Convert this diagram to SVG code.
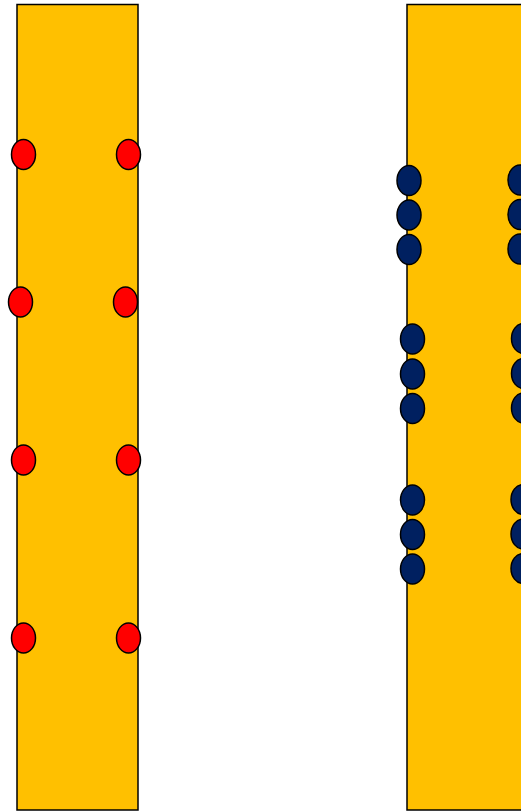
<svg xmlns="http://www.w3.org/2000/svg" width="521" height="811" viewBox="0 0 521 811">
<style>
.bar{fill:#FFC000;stroke:#000;stroke-width:1.5}
.red{fill:#FF0000;stroke:#000;stroke-width:1.5}
.navy{fill:#002060;stroke:#000;stroke-width:1.5}
</style>
<rect width="521" height="811" fill="#fff"/>
<g id="left-bar">
<rect class="bar" x="17" y="4.5" width="121" height="805.5"/>
</g>
<g id="right-bar">
<rect class="bar" x="407" y="4.5" width="130" height="805.5"/>
</g>
<g id="red-dots">
<ellipse class="red" cx="23.5" cy="154.5" rx="12" ry="15"/>
<ellipse class="red" cx="128.5" cy="154.5" rx="12" ry="15"/>
<ellipse class="red" cx="20.5" cy="302" rx="12" ry="15"/>
<ellipse class="red" cx="125.5" cy="302" rx="12" ry="15"/>
<ellipse class="red" cx="23.5" cy="460" rx="12" ry="15"/>
<ellipse class="red" cx="128.5" cy="460" rx="12" ry="15"/>
<ellipse class="red" cx="23.5" cy="638" rx="12" ry="15"/>
<ellipse class="red" cx="128.5" cy="638" rx="12" ry="15"/>
</g>
<g id="navy-dots">
<ellipse class="navy" cx="409" cy="180.5" rx="12" ry="15"/>
<ellipse class="navy" cx="409" cy="215" rx="12" ry="15"/>
<ellipse class="navy" cx="409" cy="249.5" rx="12" ry="15"/>
<ellipse class="navy" cx="520" cy="180" rx="12" ry="15"/>
<ellipse class="navy" cx="520" cy="214.5" rx="12" ry="15"/>
<ellipse class="navy" cx="520" cy="249" rx="12" ry="15"/>
<ellipse class="navy" cx="412.5" cy="339" rx="12" ry="15"/>
<ellipse class="navy" cx="412.5" cy="374" rx="12" ry="15"/>
<ellipse class="navy" cx="412.5" cy="408.5" rx="12" ry="15"/>
<ellipse class="navy" cx="523.5" cy="338.5" rx="12" ry="15"/>
<ellipse class="navy" cx="523.5" cy="373.5" rx="12" ry="15"/>
<ellipse class="navy" cx="523.5" cy="408" rx="12" ry="15"/>
<ellipse class="navy" cx="412.5" cy="500" rx="12" ry="15"/>
<ellipse class="navy" cx="412.5" cy="534.5" rx="12" ry="15"/>
<ellipse class="navy" cx="412.5" cy="569" rx="12" ry="15"/>
<ellipse class="navy" cx="523" cy="499.5" rx="12" ry="15"/>
<ellipse class="navy" cx="523" cy="534" rx="12" ry="15"/>
<ellipse class="navy" cx="523" cy="568.5" rx="12" ry="15"/>
</g>
<g id="connectors"></g>
</svg>
